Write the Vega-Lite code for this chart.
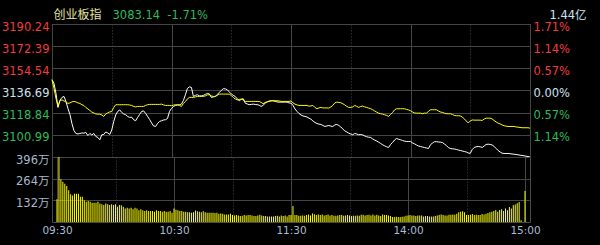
{
  "$schema": "https://vega.github.io/schema/vega-lite/v6.json",
  "background": "black",
  "padding": {"left": 0, "top": 7, "right": 18, "bottom": 16},
  "spacing": 0,
  "bounds": "flush",
  "config": {
    "view": {"stroke": "#4a4a4a", "strokeWidth": 1},
    "axis": {"domain": false, "ticks": false, "gridColor": "#454545", "gridWidth": 1, "labelFont": "DejaVu Sans", "labelFontSize": 11.5, "labelFlush": false, "labelOverlap": false}
  },
  "data": {"values": [
{"t":0,"p":3145.40,"a":3145.40,"v":138},{"t":1,"p":3142.42,"a":3138.50,"v":396},{"t":2,"p":3134.35,"a":3130.32,"v":260},{"t":3,"p":3123.06,"a":3123.86,"v":245},{"t":4,"p":3128.71,"a":3128.71,"v":233},{"t":5,"p":3131.12,"a":3129.11,"v":219},{"t":6,"p":3131.93,"a":3128.30,"v":193},{"t":7,"p":3127.90,"a":3127.49,"v":169},{"t":8,"p":3122.25,"a":3126.29,"v":162},{"t":9,"p":3117.41,"a":3126.69,"v":172},
{"t":10,"p":3110.15,"a":3127.49,"v":172},{"t":11,"p":3104.51,"a":3127.90,"v":172},{"t":12,"p":3102.09,"a":3127.49,"v":154},{"t":13,"p":3101.68,"a":3126.69,"v":154},{"t":14,"p":3102.09,"a":3126.29,"v":132},{"t":15,"p":3102.49,"a":3125.24,"v":124},{"t":16,"p":3102.33,"a":3124.67,"v":128},{"t":17,"p":3102.90,"a":3123.06,"v":124},{"t":18,"p":3100.48,"a":3121.85,"v":118},{"t":19,"p":3102.09,"a":3120.64,"v":118},
{"t":20,"p":3100.88,"a":3119.27,"v":118},{"t":21,"p":3102.09,"a":3118.62,"v":124},{"t":22,"p":3099.67,"a":3117.82,"v":112},{"t":23,"p":3098.87,"a":3117.66,"v":108},{"t":24,"p":3097.01,"a":3117.66,"v":104},{"t":25,"p":3101.04,"a":3117.01,"v":112},{"t":26,"p":3101.28,"a":3115.80,"v":108},{"t":27,"p":3103.30,"a":3117.82,"v":104},{"t":28,"p":3102.49,"a":3118.62,"v":108},{"t":29,"p":3101.28,"a":3119.43,"v":104},
{"t":30,"p":3104.91,"a":3119.83,"v":108},{"t":31,"p":3111.77,"a":3123.06,"v":93},{"t":32,"p":3117.00,"a":3125.24,"v":104},{"t":33,"p":3119.83,"a":3125.24,"v":102},{"t":34,"p":3121.04,"a":3125.24,"v":93},{"t":35,"p":3119.03,"a":3125.24,"v":83},{"t":36,"p":3117.82,"a":3125.24,"v":87},{"t":37,"p":3117.17,"a":3125.24,"v":83},{"t":38,"p":3115.80,"a":3125.24,"v":87},{"t":39,"p":3115.00,"a":3125.00,"v":77},
{"t":40,"p":3115.24,"a":3124.67,"v":87},{"t":41,"p":3113.14,"a":3123.86,"v":83},{"t":42,"p":3112.33,"a":3123.46,"v":71},{"t":43,"p":3115.00,"a":3123.86,"v":77},{"t":44,"p":3117.41,"a":3123.86,"v":71},{"t":45,"p":3119.83,"a":3123.86,"v":67},{"t":46,"p":3120.24,"a":3123.86,"v":71},{"t":47,"p":3118.22,"a":3124.67,"v":67},{"t":48,"p":3115.80,"a":3125.24,"v":67},{"t":49,"p":3113.38,"a":3125.48,"v":67},
{"t":50,"p":3110.56,"a":3125.48,"v":63},{"t":51,"p":3108.14,"a":3125.48,"v":71},{"t":52,"p":3107.73,"a":3125.48,"v":67},{"t":53,"p":3110.15,"a":3125.48,"v":67},{"t":54,"p":3111.77,"a":3125.48,"v":63},{"t":55,"p":3112.33,"a":3125.72,"v":67},{"t":56,"p":3112.97,"a":3125.07,"v":63},{"t":57,"p":3113.14,"a":3124.67,"v":63},{"t":58,"p":3114.19,"a":3124.67,"v":67},{"t":59,"p":3119.83,"a":3124.67,"v":57},
{"t":60,"p":3122.25,"a":3124.43,"v":83},{"t":61,"p":3123.86,"a":3124.91,"v":75},{"t":62,"p":3124.67,"a":3125.24,"v":71},{"t":63,"p":3125.07,"a":3125.07,"v":67},{"t":64,"p":3125.24,"a":3124.67,"v":67},{"t":65,"p":3125.72,"a":3123.86,"v":63},{"t":66,"p":3128.71,"a":3126.29,"v":63},{"t":67,"p":3133.30,"a":3127.90,"v":60},{"t":68,"p":3138.38,"a":3129.91,"v":60},{"t":69,"p":3139.59,"a":3131.12,"v":57},
{"t":70,"p":3139.19,"a":3131.12,"v":60},{"t":71,"p":3131.93,"a":3131.12,"v":70},{"t":72,"p":3132.74,"a":3131.53,"v":66},{"t":73,"p":3133.30,"a":3131.93,"v":62},{"t":74,"p":3132.33,"a":3131.93,"v":60},{"t":75,"p":3132.33,"a":3131.93,"v":66},{"t":76,"p":3132.74,"a":3131.93,"v":60},{"t":77,"p":3133.54,"a":3132.33,"v":57},{"t":78,"p":3134.35,"a":3133.14,"v":57},{"t":79,"p":3133.95,"a":3133.30,"v":57},
{"t":80,"p":3131.12,"a":3132.33,"v":57},{"t":81,"p":3131.53,"a":3131.93,"v":55},{"t":82,"p":3131.93,"a":3131.93,"v":57},{"t":83,"p":3133.54,"a":3132.74,"v":50},{"t":84,"p":3135.16,"a":3133.79,"v":52},{"t":85,"p":3136.77,"a":3133.79,"v":50},{"t":86,"p":3138.14,"a":3133.79,"v":45},{"t":87,"p":3137.98,"a":3133.79,"v":45},{"t":88,"p":3137.33,"a":3133.79,"v":45},{"t":89,"p":3135.56,"a":3133.79,"v":50},
{"t":90,"p":3133.95,"a":3132.74,"v":42},{"t":91,"p":3132.74,"a":3131.12,"v":40},{"t":92,"p":3131.93,"a":3129.91,"v":42},{"t":93,"p":3129.91,"a":3129.11,"v":40},{"t":94,"p":3128.46,"a":3129.51,"v":36},{"t":95,"p":3129.51,"a":3129.75,"v":38},{"t":96,"p":3130.07,"a":3129.11,"v":42},{"t":97,"p":3126.53,"a":3127.90,"v":40},{"t":98,"p":3125.88,"a":3127.90,"v":42},{"t":99,"p":3125.24,"a":3127.90,"v":42},
{"t":100,"p":3125.48,"a":3127.90,"v":40},{"t":101,"p":3125.72,"a":3127.90,"v":36},{"t":102,"p":3125.48,"a":3127.90,"v":36},{"t":103,"p":3125.24,"a":3127.90,"v":40},{"t":104,"p":3124.91,"a":3127.90,"v":44},{"t":105,"p":3123.86,"a":3127.09,"v":40},{"t":106,"p":3124.67,"a":3126.04,"v":36},{"t":107,"p":3126.53,"a":3127.09,"v":36},{"t":108,"p":3127.49,"a":3127.49,"v":34},{"t":109,"p":3127.90,"a":3128.30,"v":34},
{"t":110,"p":3128.30,"a":3128.46,"v":34},{"t":111,"p":3128.46,"a":3128.46,"v":34},{"t":112,"p":3127.90,"a":3128.46,"v":36},{"t":113,"p":3127.49,"a":3128.46,"v":38},{"t":114,"p":3127.33,"a":3128.30,"v":34},{"t":115,"p":3127.33,"a":3127.90,"v":40},{"t":116,"p":3127.33,"a":3127.90,"v":36},{"t":117,"p":3127.33,"a":3127.90,"v":40},{"t":118,"p":3127.33,"a":3127.90,"v":34},{"t":119,"p":3126.69,"a":3127.90,"v":42},
{"t":120,"p":3126.53,"a":3128.30,"v":42},{"t":121,"p":3124.67,"a":3126.69,"v":97},{"t":122,"p":3121.85,"a":3125.72,"v":42},{"t":123,"p":3119.83,"a":3125.07,"v":42},{"t":124,"p":3118.22,"a":3124.67,"v":38},{"t":125,"p":3117.00,"a":3124.67,"v":38},{"t":126,"p":3116.20,"a":3124.67,"v":40},{"t":127,"p":3115.80,"a":3124.67,"v":38},{"t":128,"p":3115.40,"a":3124.67,"v":42},{"t":129,"p":3114.43,"a":3124.11,"v":45},
{"t":130,"p":3113.62,"a":3124.27,"v":40},{"t":131,"p":3112.17,"a":3124.67,"v":52},{"t":132,"p":3110.96,"a":3123.06,"v":47},{"t":133,"p":3110.15,"a":3122.01,"v":42},{"t":134,"p":3109.59,"a":3122.66,"v":45},{"t":135,"p":3109.35,"a":3123.06,"v":42},{"t":136,"p":3108.54,"a":3122.66,"v":45},{"t":137,"p":3107.73,"a":3122.66,"v":40},{"t":138,"p":3108.14,"a":3122.66,"v":43},{"t":139,"p":3108.54,"a":3122.50,"v":45},
{"t":140,"p":3107.98,"a":3123.46,"v":40},{"t":141,"p":3107.73,"a":3124.67,"v":42},{"t":142,"p":3108.95,"a":3126.69,"v":38},{"t":143,"p":3109.35,"a":3127.33,"v":38},{"t":144,"p":3108.54,"a":3127.09,"v":40},{"t":145,"p":3107.33,"a":3126.85,"v":42},{"t":146,"p":3105.72,"a":3126.04,"v":42},{"t":147,"p":3104.11,"a":3125.07,"v":38},{"t":148,"p":3103.30,"a":3123.86,"v":40},{"t":149,"p":3102.33,"a":3123.06,"v":42},
{"t":150,"p":3101.68,"a":3123.06,"v":40},{"t":151,"p":3101.04,"a":3123.46,"v":36},{"t":152,"p":3102.09,"a":3124.67,"v":38},{"t":153,"p":3101.68,"a":3123.86,"v":38},{"t":154,"p":3101.04,"a":3123.06,"v":40},{"t":155,"p":3101.28,"a":3123.86,"v":38},{"t":156,"p":3100.88,"a":3124.11,"v":44},{"t":157,"p":3100.07,"a":3123.46,"v":44},{"t":158,"p":3099.43,"a":3123.06,"v":40},{"t":159,"p":3099.10,"a":3122.50,"v":42},
{"t":160,"p":3098.87,"a":3122.01,"v":44},{"t":161,"p":3097.66,"a":3121.21,"v":40},{"t":162,"p":3096.85,"a":3120.24,"v":46},{"t":163,"p":3096.04,"a":3119.27,"v":40},{"t":164,"p":3095.07,"a":3118.46,"v":44},{"t":165,"p":3094.03,"a":3117.98,"v":40},{"t":166,"p":3092.98,"a":3117.66,"v":36},{"t":167,"p":3092.17,"a":3117.17,"v":46},{"t":168,"p":3091.37,"a":3116.61,"v":42},{"t":169,"p":3090.80,"a":3115.80,"v":42},
{"t":170,"p":3093.22,"a":3117.41,"v":40},{"t":171,"p":3094.83,"a":3119.03,"v":36},{"t":172,"p":3096.85,"a":3121.04,"v":30},{"t":173,"p":3098.06,"a":3122.01,"v":30},{"t":174,"p":3097.42,"a":3122.01,"v":32},{"t":175,"p":3097.01,"a":3122.01,"v":30},{"t":176,"p":3096.45,"a":3122.01,"v":30},{"t":177,"p":3095.88,"a":3122.01,"v":32},{"t":178,"p":3095.64,"a":3121.45,"v":33},{"t":179,"p":3095.64,"a":3121.04,"v":38},
{"t":180,"p":3095.64,"a":3120.40,"v":40},{"t":181,"p":3094.43,"a":3119.43,"v":42},{"t":182,"p":3093.78,"a":3118.62,"v":40},{"t":183,"p":3092.82,"a":3118.46,"v":40},{"t":184,"p":3092.01,"a":3118.46,"v":36},{"t":185,"p":3091.61,"a":3118.46,"v":40},{"t":186,"p":3091.20,"a":3117.98,"v":40},{"t":187,"p":3090.80,"a":3118.46,"v":40},{"t":188,"p":3090.40,"a":3118.46,"v":34},{"t":189,"p":3089.99,"a":3119.83,"v":36},
{"t":190,"p":3092.82,"a":3121.21,"v":36},{"t":191,"p":3094.43,"a":3121.21,"v":34},{"t":192,"p":3095.40,"a":3121.21,"v":34},{"t":193,"p":3095.48,"a":3121.21,"v":34},{"t":194,"p":3095.24,"a":3120.24,"v":36},{"t":195,"p":3095.07,"a":3119.43,"v":40},{"t":196,"p":3094.83,"a":3119.03,"v":42},{"t":197,"p":3093.62,"a":3118.46,"v":46},{"t":198,"p":3092.41,"a":3117.98,"v":42},{"t":199,"p":3090.80,"a":3117.98,"v":40},
{"t":200,"p":3089.99,"a":3117.98,"v":40},{"t":201,"p":3089.75,"a":3117.41,"v":44},{"t":202,"p":3089.59,"a":3116.61,"v":44},{"t":203,"p":3089.19,"a":3116.37,"v":46},{"t":204,"p":3088.78,"a":3116.37,"v":44},{"t":205,"p":3088.38,"a":3116.20,"v":50},{"t":206,"p":3087.98,"a":3115.40,"v":60},{"t":207,"p":3087.57,"a":3113.78,"v":62},{"t":208,"p":3087.17,"a":3112.17,"v":66},{"t":209,"p":3086.36,"a":3110.56,"v":60},
{"t":210,"p":3086.12,"a":3112.17,"v":42},{"t":211,"p":3089.19,"a":3112.97,"v":42},{"t":212,"p":3090.80,"a":3112.81,"v":44},{"t":213,"p":3091.37,"a":3112.81,"v":48},{"t":214,"p":3091.61,"a":3112.81,"v":42},{"t":215,"p":3091.37,"a":3112.81,"v":44},{"t":216,"p":3090.80,"a":3112.57,"v":42},{"t":217,"p":3092.01,"a":3113.78,"v":42},{"t":218,"p":3093.22,"a":3114.43,"v":48},{"t":219,"p":3093.46,"a":3114.43,"v":46},
{"t":220,"p":3093.22,"a":3114.43,"v":50},{"t":221,"p":3092.82,"a":3113.78,"v":55},{"t":222,"p":3091.61,"a":3112.57,"v":60},{"t":223,"p":3089.99,"a":3111.36,"v":62},{"t":224,"p":3088.38,"a":3110.40,"v":67},{"t":225,"p":3087.17,"a":3109.75,"v":73},{"t":226,"p":3086.20,"a":3108.95,"v":63},{"t":227,"p":3085.96,"a":3108.30,"v":73},{"t":228,"p":3085.96,"a":3107.98,"v":77},{"t":229,"p":3085.96,"a":3107.73,"v":67},
{"t":230,"p":3085.80,"a":3107.73,"v":83},{"t":231,"p":3085.56,"a":3107.73,"v":71},{"t":232,"p":3085.40,"a":3107.73,"v":91},{"t":233,"p":3085.15,"a":3107.33,"v":83},{"t":234,"p":3084.91,"a":3107.17,"v":102},{"t":235,"p":3084.59,"a":3106.93,"v":106},{"t":236,"p":3084.35,"a":3106.69,"v":114},{"t":237,"p":3084.11,"a":3106.69,"v":122},{"t":238,"p":3083.78,"a":3106.69,"v":10},{"t":239,"p":3083.54,"a":3106.69,"v":0},
{"t":240,"p":3083.14,"a":3106.36,"v":189}
  ]},
  "vconcat": [
    {
      "width": 478,
      "height": 133,
      "layer": [
        {
          "mark": {"type": "line", "color": "#ffffff", "strokeWidth": 1},
          "encoding": {
            "x": {"field": "t", "type": "quantitative", "scale": {"domain": [0, 240], "nice": false, "zero": false},
              "axis": {"orient": "top", "values": [0, 30, 60, 90, 120, 150, 180, 210, 240], "labels": false, "grid": true,
                "gridDash": {"condition": {"test": "datum.value % 60 == 30", "value": [1, 2]}, "value": []},
                "title": "3083.14\u00a0\u00a0-1.71%", "titleX": 60, "titleY": -6, "titleAlign": "left", "titleBaseline": "alphabetic", "titleAngle": 0,
                "titleColor": "#2dbb5a", "titleFont": "DejaVu Sans", "titleFontSize": 11.5, "titleFontWeight": "normal"}},
            "y": {"field": "p", "type": "quantitative", "scale": {"domain": [3083.14, 3190.24], "nice": false, "zero": false},
              "axis": {"orient": "left", "values": [3190.24, 3172.39, 3154.54, 3136.69, 3118.84, 3100.99], "format": ".2f", "labelPadding": 3, "labelOffset": 3, "grid": true,
                "labelColor": {"condition": [{"test": "datum.value > 3137", "value": "#f03c3c"}, {"test": "datum.value < 3136", "value": "#2dbb5a"}], "value": "#d0e0f0"},
                "title": "创业板指", "titleAngle": 0, "titleX": 1, "titleY": -6, "titleAlign": "left", "titleBaseline": "alphabetic",
                "titleColor": "#e6e2a0", "titleFont": "Noto Sans CJK SC", "titleFontSize": 12, "titleFontWeight": "normal"}}
          }
        },
        {
          "mark": {"type": "line", "color": "#ffff00", "strokeWidth": 1},
          "encoding": {
            "x": {"field": "t", "type": "quantitative", "scale": {"domain": [0, 240], "nice": false, "zero": false}},
            "y": {"field": "a", "type": "quantitative", "scale": {"domain": [3083.14, 3190.24], "nice": false, "zero": false},
              "axis": {"orient": "right", "values": [3190.24, 3172.39, 3154.54, 3136.69, 3118.84, 3100.99], "grid": false, "labelPadding": 3, "labelOffset": 3,
                "labelExpr": "format(abs(datum.value - 3136.69) / 3136.69, '.2%')",
                "labelColor": {"condition": [{"test": "datum.value > 3137", "value": "#f03c3c"}, {"test": "datum.value < 3136", "value": "#2dbb5a"}], "value": "#d0e0f0"},
                "title": "1.44亿", "titleAngle": 0, "titleX": 19, "titleY": -6, "titleAlign": "left", "titleBaseline": "alphabetic",
                "titleColor": "#d0e0f0", "titleFont": "DejaVu Sans, Noto Sans CJK SC", "titleFontSize": 11.5, "titleFontWeight": "normal"}}
          }
        }
      ],
      "resolve": {"scale": {"y": "independent"}}
    },
    {
      "width": 478,
      "height": 65,
      "mark": {"type": "bar", "color": "#ffff00", "size": 1},
      "encoding": {
        "x": {"field": "t", "type": "quantitative", "scale": {"domain": [0, 240], "nice": false, "zero": false},
          "axis": {"values": [0, 30, 60, 90, 120, 150, 180, 210, 240], "grid": true,
            "gridDash": {"condition": {"test": "datum.value % 60 == 30", "value": [1, 2]}, "value": []},
            "labelExpr": "datum.value % 60 == 0 ? ['09:30','10:30','11:30','14:00','15:00'][datum.value / 60] : ''",
            "labelColor": "#a8bcd4", "labelFontSize": 10.5, "labelPadding": 3, "title": null}},
        "y": {"field": "v", "type": "quantitative", "scale": {"domain": [0, 396], "nice": false},
          "axis": {"values": [132, 264, 396], "labelExpr": "datum.value + '万'", "labelColor": "#a8b8cc", "labelPadding": 3, "labelOffset": 3,
            "labelFont": "DejaVu Sans, Noto Sans CJK SC", "title": null}}
      }
    }
  ]
}
